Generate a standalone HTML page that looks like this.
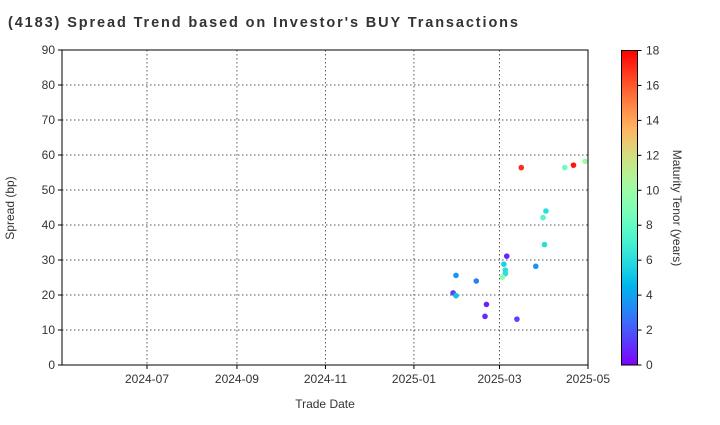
<!DOCTYPE html>
<html><head><meta charset="utf-8">
<style>
body{margin:0;background:#fff;font-family:"Liberation Sans",Arial,sans-serif;}
svg text{font-family:"Liberation Sans",Arial,sans-serif;fill:#333;}
</style></head>
<body>
<svg id="chart" width="720" height="420" xmlns="http://www.w3.org/2000/svg">
<defs>
<linearGradient id="cbgrad" x1="0" y1="1" x2="0" y2="0"></linearGradient>
</defs>
<text x="8" y="27" font-size="14.5" font-weight="bold" fill="#222" textLength="510" lengthAdjust="spacing">(4183)   Spread Trend based on Investor's BUY Transactions</text>
<g id="grid"></g>
<g id="points"></g>
<rect x="62" y="50" width="526" height="315" fill="none" stroke="#000" stroke-width="1"/>
<g id="axes"></g>
<text x="325" y="408" font-size="12" text-anchor="middle">Trade Date</text>
<text transform="translate(14,208) rotate(-90)" font-size="12" text-anchor="middle">Spread (bp)</text>
<rect x="621.5" y="50.5" width="16" height="314.5" fill="url(#cbgrad)" stroke="#000" stroke-width="1"/>
<g id="cbticks"></g>
<text transform="translate(673,208) rotate(90)" font-size="12" text-anchor="middle">Maturity Tenor (years)</text>
</svg>
<script>
const dates=["2025-03-16","2025-04-15","2025-04-21","2025-04-29","2025-04-02","2025-03-31","2025-04-01","2025-03-06","2025-03-04","2025-03-26","2025-03-05","2025-03-05","2025-03-03","2025-01-30","2025-02-13","2025-01-28","2025-01-30","2025-02-20","2025-02-19","2025-03-13"];
const spreads=[56.4,56.4,57.1,58.2,44,42.1,34.4,31.1,28.8,28.2,27.1,26.1,25.1,25.6,24,20.6,19.8,17.3,13.9,13.1];
const tenors=[17,8.5,17.5,10,6,7.5,6,0.8,5.5,3.5,6,6,9.5,3.5,3,1.5,5,0.7,1,1.5];
const xTicks=["2024-07","2024-09","2024-11","2025-01","2025-03","2025-05"];
const yTicks=[0,10,20,30,40,50,60,70,80,90];
const cTicks=[0,2,4,6,8,10,12,14,16,18];

const NS="http://www.w3.org/2000/svg";
const X0=62,X1=588,Y0=365,Y1=50;
const d0=Date.parse("2024-07-01"),d1=Date.parse("2025-05-01");
function xs(s){const t=Date.parse(s.length==7?s+"-01":s);return 147+(t-d0)/(d1-d0)*(588-147);}
function ys(v){return Y0-(v/90)*(Y0-Y1);}
function rainbow(v){const x=Math.max(0,Math.min(1,v/18));
 const r=Math.min(1,Math.abs(2*x-0.5)),g=Math.sin(Math.PI*x),b=Math.cos(Math.PI*x/2);
 return `rgb(${Math.round(r*255)},${Math.round(g*255)},${Math.round(b*255)})`;}
function mk(tag,attrs,parent){const e=document.createElementNS(NS,tag);for(const k in attrs)e.setAttribute(k,attrs[k]);parent.appendChild(e);return e;}

const grad=document.getElementById("cbgrad");
for(let i=0;i<=20;i++){mk("stop",{offset:(i/20),"stop-color":rainbow(i/20*18)},grad);}

const grid=document.getElementById("grid"),axes=document.getElementById("axes");
yTicks.forEach(v=>{const y=ys(v);
 if(v>0&&v<90){const l=mk("line",{x1:X0,x2:X1,y1:y,y2:y,stroke:"#555","stroke-dasharray":"1.5,2.5","stroke-width":1},grid);
 
 }
 mk("line",{x1:X0-4,x2:X0,y1:y,y2:y,stroke:"#000"},axes);
 const t=mk("text",{x:X0-7,y:y+4,"font-size":12,"text-anchor":"end"},axes);t.textContent=v;
 
 });
xTicks.forEach(s=>{const x=xs(s);
 if(x<X1-1){const l=mk("line",{x1:x,x2:x,y1:Y1,y2:Y0,stroke:"#555","stroke-dasharray":"1.5,2.5","stroke-width":1},grid);
 
 }
 mk("line",{x1:x,x2:x,y1:Y0,y2:Y0+4,stroke:"#000"},axes);
 const t=mk("text",{x:x,y:Y0+18,"font-size":12,"text-anchor":"middle"},axes);t.textContent=s;
 
 });
const pts=document.getElementById("points");
dates.forEach((d,i)=>{const c=mk("circle",{cx:xs(d),cy:ys(spreads[i]),r:2.8,fill:rainbow(tenors[i])},pts);
 
 });
const cb=document.getElementById("cbticks");
cTicks.forEach(v=>{const y=365-v/18*(365-50.5);
 mk("line",{x1:637.5,x2:641.5,y1:y,y2:y,stroke:"#000"},cb);
 const t=mk("text",{x:646,y:y+4,"font-size":12},cb);t.textContent=v;
 
 });
</script>
</body></html>
